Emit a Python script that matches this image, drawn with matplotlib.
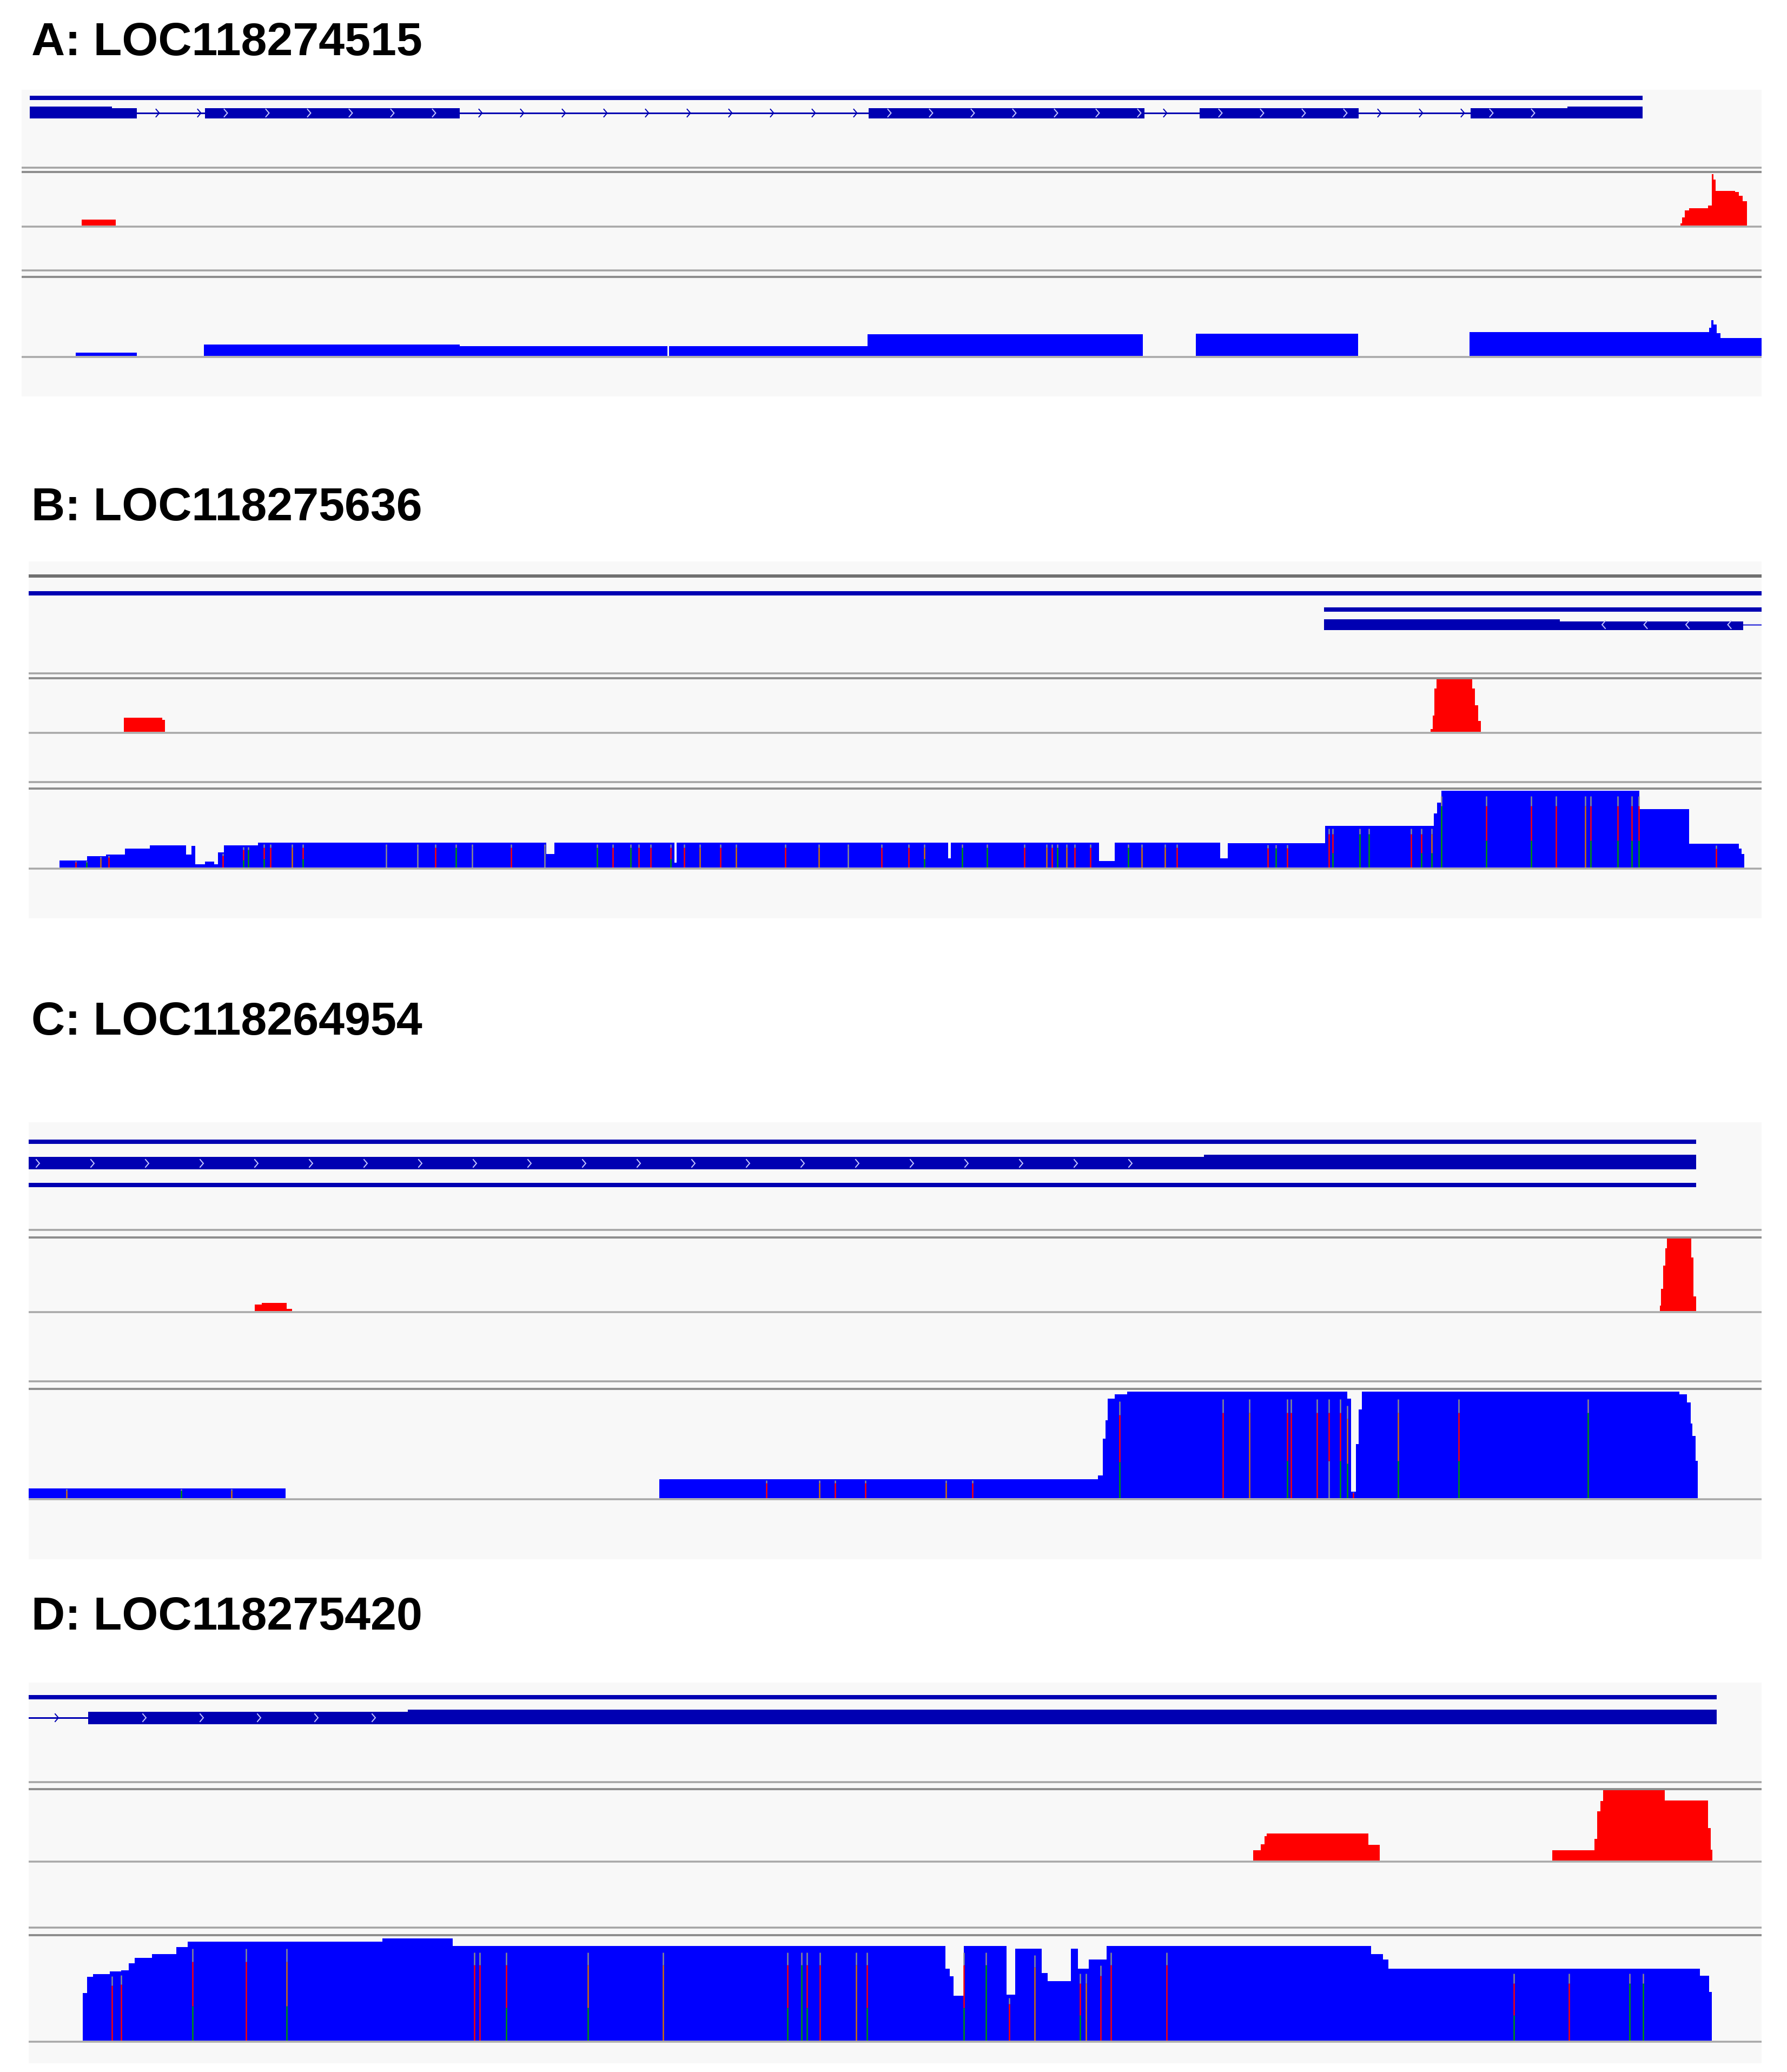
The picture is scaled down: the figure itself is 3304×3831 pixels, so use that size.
import numpy as np
import matplotlib
matplotlib.use('Agg')
import matplotlib.pyplot as plt
from matplotlib.patches import Rectangle

plt.rcParams['font.family'] = ['Liberation Sans', 'DejaVu Sans']

W, H = 3305, 3831
DPI = 100

# IGV-like colours
BG = '#f8f8f8'
GENE = '#0000b2'
CHEV_IN = '#c4c4ff'
COV_BLUE = '#0000ff'
COV_RED = '#ff0000'
SEP_A = '#a4a4a4'
SEP_B = '#8e8e8e'
BASE = '#a8a8a8'
NT = {'G': '#009600', 'R': '#ff0000', 'O': '#d17105', 'Y': '#8c8c8c'}

# ---------------- data (genomic positions on the screen scale) ----------------
titles = ['A: LOC118274515', 'B: LOC118275636', 'C: LOC118264954', 'D: LOC118275420']

# A
a_tx = (55, 3037)
a_exons = [(55, 253), (379, 850), (1606, 2116), (2218, 2512), (2719, 3037)]
a_tall = [(55, 207), (2898, 3037)]
a_red_x = [151, 214, 3107, 3110, 3115, 3123, 3158, 3165, 3168, 3172, 3180, 3208, 3215, 3222, 3230]
a_red_y = [11, 0, 4, 15, 28, 32, 37, 95, 85, 64, 64, 62, 55, 45, 0]
a_blue_x = [140, 253, 377, 850, 1234, 1237, 1604, 2113, 2211, 2511, 2717, 3160, 3164, 3168, 3174, 3181, 3257]
a_blue_y = [6, 0, 21, 18, 0, 18, 40, 0, 41, 0, 44, 52, 66, 58, 42, 33, 33]
a_mm_x = []
a_mm_c = []

# B
b_tx1 = (53, 3257)
b_tx2 = (2448, 3257)
b_exons = [(2448, 3223)]
b_tall = [(2448, 2884)]
b_intron = (3223, 3257)
b_red_x = [229, 300, 305, 2645, 2649, 2652, 2656, 2722, 2727, 2733, 2738]
b_red_y = [26, 22, 0, 5, 30, 80, 97, 80, 49, 20, 0]
b_blue_x = [110, 161, 196, 231, 277, 344, 354, 361, 379, 396, 403, 414, 477, 1010, 1025, 1247, 1251,
            1753, 1758, 2032, 2061, 2256, 2270, 2450, 2651, 2657, 2665, 3031, 3123, 3215, 3220, 3225]
b_blue_y = [13, 21, 24, 35, 41, 24, 40, 6, 11, 6, 28, 41, 46, 25, 46, 9, 46,
            17, 46, 12, 46, 17, 45, 77, 100, 120, 142, 108, 44, 35, 25, 0]
b_mm_x = [140, 160, 186, 201, 412, 450, 459, 488, 500, 540, 560, 714, 772, 805, 843, 873, 945, 1007,
          1104, 1133, 1166, 1181, 1203, 1240, 1265, 1294, 1332, 1361, 1452, 1514, 1568, 1630, 1680,
          1709, 1779, 1825, 1894, 1935, 1945, 1955, 1972, 1987, 2016, 2086, 2111, 2154, 2176,
          2344, 2359, 2380, 2457, 2464, 2514, 2531, 2609, 2628, 2647, 2665, 2748, 2831, 2877,
          2931, 2941, 2991, 3017, 3030, 3173]
b_mm_c = ['R', 'G', 'O', 'R', 'R', 'GR', 'G', 'GR', 'R', 'O', 'GR', 'Y', 'Y', 'R', 'G', 'Y', 'R', 'Y',
          'G', 'R', 'G', 'R', 'R', 'GR', 'R', 'O', 'R', 'O', 'R', 'O', 'Y', 'R', 'R',
          'GO', 'G', 'G', 'R', 'O', 'R', 'G', 'O', 'R', 'R', 'G', 'O', 'O', 'R',
          'R', 'G', 'R', 'R', 'GR', 'G', 'G', 'R', 'GR', 'GO', 'G', 'GR', 'GR', 'R',
          'O', 'GR', 'GR', 'GR', 'GR', 'R']

# C
c_tx = (53, 3136)
c_tall = [(2226, 3136)]
c_red_x = [471, 484, 530, 540, 3069, 3071, 3075, 3079, 3082, 3127, 3131, 3136]
c_red_y = [12, 15, 4, 0, 10, 41, 84, 116, 134, 99, 27, 0]
c_blue_x = [53, 528, 1219, 2030, 2039, 2044, 2048, 2061, 2084, 2491, 2498, 2507, 2512, 2518,
            3105, 3119, 3126, 3129, 3135, 3139]
c_blue_y = [18, 0, 35, 42, 110, 144, 184, 192, 197, 184, 12, 100, 164, 197,
            192, 177, 138, 115, 69, 0]
c_mm_x = [123, 335, 428, 1417, 1515, 1544, 1600, 1749, 1798, 2070, 2261, 2310, 2380, 2387,
          2435, 2457, 2478, 2491, 2502, 2585, 2697, 2936]
c_mm_c = ['O', 'G', 'O', 'R', 'O', 'R', 'R', 'O', 'R', 'GR', 'R', 'O', 'GR', 'R',
          'R', 'YR', 'GR', 'GO', 'R', 'GO', 'GR', 'G']

# D
d_tx = (53, 3174)
d_exons = [(163, 3174)]
d_tall = [(754, 3174)]
d_intron = (53, 163)
d_red_x = [2317, 2331, 2338, 2342, 2530, 2551, 2870, 2948, 2953, 2959, 2964, 3078, 3158, 3163, 3166]
d_red_y = [19, 30, 45, 50, 29, 0, 19, 40, 91, 110, 130, 111, 60, 20, 0]
d_blue_x = [153, 161, 172, 203, 224, 238, 249, 281, 326, 347, 707, 837, 1748, 1756, 1763, 1782,
            1861, 1877, 1926, 1937, 1980, 1993, 2013, 2046, 2535, 2557, 2567, 3143, 3160, 3165]
d_blue_y = [88, 118, 123, 128, 130, 143, 153, 160, 173, 183, 189, 175, 133, 119, 83, 175,
            85, 170, 125, 110, 170, 133, 150, 175, 160, 150, 133, 120, 90, 0]
d_mm_x = [207, 224, 356, 455, 530, 877, 887, 936, 1087, 1226, 1456, 1482, 1492, 1516, 1583, 1603,
          1782, 1823, 1866, 1913, 1997, 2008, 2035, 2054, 2157, 2799, 2901, 3013, 3038]
d_mm_c = ['R', 'R', 'GR', 'R', 'GO', 'R', 'R', 'GR', 'GO', 'O', 'GR', 'G', 'GR', 'R', 'O', 'GR',
          'GR', 'G', 'R', 'O', 'GR', 'O', 'R', 'R', 'R', 'GR', 'R', 'G', 'G']

# ---------------- layout (pixels) ----------------
panels = [
    dict(bg=(40, 166, 3257, 733), title_y=102, seps=[(310, 318), (500, 512)], red=(320, 417), blue=(514, 658)),
    dict(bg=(53, 1038, 3257, 1698), title_y=962, seps=[(1245, 1254), (1446, 1458)], red=(1256, 1353), blue=(1460, 1604)),
    dict(bg=(53, 2075, 3257, 2883), title_y=1913, seps=[(2274, 2288), (2554, 2568)], red=(2290, 2424), blue=(2570, 2770)),
    dict(bg=(53, 3111, 3257, 3815), title_y=3013, seps=[(3295, 3308), (3564, 3578)], red=(3310, 3440), blue=(3580, 3773)),
]


def pt(px):
    return px * 72.0 / DPI


fig = plt.figure(figsize=(W / DPI, H / DPI), dpi=DPI)
fig.patch.set_facecolor('white')
ax0 = fig.add_axes([0, 0, 1, 1])
ax0.set_xlim(0, W)
ax0.set_ylim(H, 0)
ax0.axis('off')


def bar(x0, x1, y0, y1, color=GENE):
    ax0.add_patch(Rectangle((x0, y0), x1 - x0, y1 - y0, facecolor=color, edgecolor='none', zorder=3))


def chevrons(x0, x1, step, yc, d, color, first=None):
    start = x0 + step / 2 if first is None else first
    for x in np.arange(start, x1 - 8, step):
        ax0.plot([x - 3 * d, x + 3 * d, x - 3 * d], [yc - 7, yc, yc + 7], color=color,
                 lw=pt(2), solid_joinstyle='miter', zorder=4)


def track(top, base):
    ax = fig.add_axes([0, 1 - base / H, 1, (base - top) / H])
    ax.set_xlim(0, W)
    ax.set_ylim(0, base - top)
    ax.axis('off')
    ax.patch.set_alpha(0)
    return ax


def coverage(ax, xs, ys, color, mm_x=(), mm_c=()):
    xs = np.asarray(xs, float)
    ys = np.asarray(ys, float)
    ax.fill_between(xs, 0, ys, step='post', color=color, lw=0, zorder=2)
    for x, code in zip(mm_x, mm_c):
        h = ys[np.searchsorted(xs, x, side='right') - 1]
        if len(code) == 2:
            ax.vlines(x, 0, 0.35 * h, color=NT[code[0]], lw=pt(2.5), zorder=3)
            ax.vlines(x, 0.35 * h, 0.8 * h, color=NT[code[1]], lw=pt(2.5), zorder=3)
        else:
            ax.vlines(x, 0, 0.8 * h, color=NT[code], lw=pt(2.5), zorder=3)
        ax.vlines(x, 0.8 * h, 0.93 * h, color=NT['Y'], lw=pt(2.5), zorder=3)


# frames, separators, baselines, titles
for p, title in zip(panels, titles):
    x0, y0, x1, y1 = p['bg']
    ax0.add_patch(Rectangle((x0, y0), x1 - x0, y1 - y0, facecolor=BG, edgecolor='none', zorder=1))
    for s1, s2 in p['seps']:
        ax0.plot([x0, x1], [s1, s1], color=SEP_A, lw=pt(3.5), solid_capstyle='butt', zorder=2)
        ax0.plot([x0, x1], [s2, s2], color=SEP_B, lw=pt(4), solid_capstyle='butt', zorder=2)
    for base in (p['red'][1], p['blue'][1]):
        ax0.plot([x0, x1], [base + 1.5, base + 1.5], color=BASE, lw=pt(3.5), solid_capstyle='butt', zorder=2)
    ax0.text(58, p['title_y'], title, fontsize=62, fontweight='bold', color='black',
             ha='left', va='baseline', zorder=5)

# ---- gene tracks ----
# A
bar(a_tx[0], a_tx[1], 177, 185)
bar(a_tx[0], a_tx[1], 207.5, 210.5)
ax0.broken_barh([(s, e - s) for s, e in a_exons], (200, 19), facecolors=GENE, zorder=3)
ax0.broken_barh([(s, e - s) for s, e in a_tall], (197, 22), facecolors=GENE, zorder=3)
for (s, e), (s2, e2) in zip(a_exons[:-1], a_exons[1:]):
    chevrons(e, s2, 77, 209, 1, GENE)
for s, e in a_exons[1:]:
    chevrons(s, min(e, 2898), 77, 209, 1, CHEV_IN)

# B
ax0.plot([panels[1]['bg'][0], panels[1]['bg'][2]], [1065, 1065], color='#707070', lw=pt(6),
         solid_capstyle='butt', zorder=2)
bar(b_tx1[0], b_tx1[1], 1093, 1101)
bar(b_tx2[0], b_tx2[1], 1123, 1131)
bar(b_intron[0], b_intron[1], 1153.5, 1156.5, '#5a5ae0')
ax0.broken_barh([(s, e - s) for s, e in b_exons], (1149, 16), facecolors=GENE, zorder=3)
ax0.broken_barh([(s, e - s) for s, e in b_tall], (1145, 20), facecolors=GENE, zorder=3)
chevrons(2930, 3223, 77.5, 1155, -1, CHEV_IN, first=2965)

# C
bar(c_tx[0], c_tx[1], 2107, 2115)
bar(c_tx[0], c_tx[1], 2139, 2162)
for s, e in c_tall:
    bar(s, e, 2135, 2162)
bar(c_tx[0], c_tx[1], 2187, 2195)
chevrons(c_tx[0], 2110, 101, 2151, 1, CHEV_IN, first=70)

# D
bar(d_tx[0], d_tx[1], 3134, 3142)
bar(d_intron[0], d_intron[1], 3174.5, 3177.5)
chevrons(d_intron[0], d_intron[1], 100, 3176, 1, GENE, first=105)
ax0.broken_barh([(s, e - s) for s, e in d_exons], (3165, 23), facecolors=GENE, zorder=3)
ax0.broken_barh([(s, e - s) for s, e in d_tall], (3161, 27), facecolors=GENE, zorder=3)
chevrons(d_exons[0][0], 740, 106, 3176, 1, CHEV_IN, first=267)

# ---- coverage tracks ----
reds = [(a_red_x, a_red_y), (b_red_x, b_red_y), (c_red_x, c_red_y), (d_red_x, d_red_y)]
blues = [(a_blue_x, a_blue_y, a_mm_x, a_mm_c), (b_blue_x, b_blue_y, b_mm_x, b_mm_c),
         (c_blue_x, c_blue_y, c_mm_x, c_mm_c), (d_blue_x, d_blue_y, d_mm_x, d_mm_c)]

for p, (rx, ry), (bx, by, mx, mc) in zip(panels, reds, blues):
    axr = track(*p['red'])
    coverage(axr, rx, ry, COV_RED)
    axb = track(*p['blue'])
    coverage(axb, bx, by, COV_BLUE, mx, mc)

fig.savefig('out.png', dpi=DPI, facecolor='white')
